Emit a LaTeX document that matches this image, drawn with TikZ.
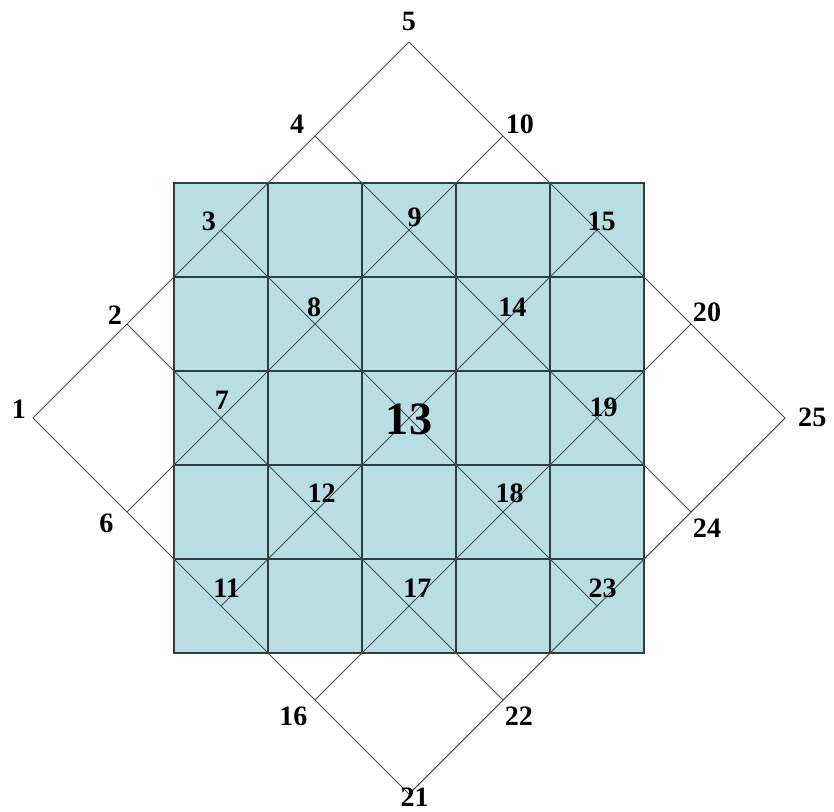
\documentclass[tikz,border=0pt]{standalone}
\usepackage{fontspec}
\setmainfont{Liberation Serif}
\usetikzlibrary{positioning}
\definecolor{cellblue}{RGB}{184,222,227}
\definecolor{gridline}{RGB}{45,62,64}
\definecolor{diagline}{RGB}{70,76,76}

\begin{document}
\begin{tikzpicture}[x=2cm,y=2cm,
    num/.style={font=\bfseries\fontsize{17}{19}\selectfont, inner sep=0pt},
    bignum/.style={font=\bfseries\fontsize{28}{30}\selectfont, inner sep=0pt},
    diag/.style={diagline, line width=0.6pt},
    gridln/.style={gridline, line width=1.2pt}]
    \useasboundingbox (-4.351,-4.191) rectangle (4.521,4.447);
    % the 5x5 square
    \fill[cellblue] (-2.5,-2.5) rectangle (2.5,2.5);
    \draw[gridln, step=2cm, shift={(-2.5,-2.5)}] (0,0) grid (5,5);
    \draw[gridln] (-2.5,-2.5) rectangle (2.5,2.5);
    % diamond lattice, point n = 5a+b+1
    \foreach \a in {0,...,4}
      \foreach \b in {0,...,4} {
        \pgfmathtruncatemacro{\n}{5*\a+\b+1}
        \coordinate (p\n) at ({\a+\b-4},{\b-\a});
      }
    \foreach \a in {0,...,4} {
      \pgfmathtruncatemacro{\s}{5*\a+1}
      \pgfmathtruncatemacro{\e}{5*\a+5}
      \draw[diag] (p\s) -- (p\e);
    }
    \foreach \b in {1,...,5} {
      \pgfmathtruncatemacro{\e}{\b+20}
      \draw[diag] (p\b) -- (p\e);
    }
    % numbers
    \node[num] (n1) at (-4.15,0.09) {1};
    \node[num] (n2) at (-3.13,1.09) {2};
    \node[num] (n3) at (-2.13,2.09) {3};
    \node[num] (n4) at (-1.19,3.12) {4};
    \node[num] (n5) at (0,4.22) {5};
    \node[num] (n6) at (-3.22,-1.12) {6};
    \node[num] (n7) at (-1.99,0.19) {7};
    \node[num] (n8) at (-1.01,1.18) {8};
    \node[num] (n9) at (0.06,2.14) {9};
    \node[num] (n10) at (1.18,3.12) {10};
    \node[num] (n11) at (-1.94,-1.81) {11};
    \node[num] (n12) at (-0.93,-0.80) {12};
    \node[bignum] (n13) at (0,-0.02) {13};
    \node[num] (n14) at (1.10,1.18) {14};
    \node[num] (n15) at (2.05,2.09) {15};
    \node[num] (n16) at (-1.23,-3.17) {16};
    \node[num] (n17) at (0.09,-1.81) {17};
    \node[num] (n18) at (1.07,-0.80) {18};
    \node[num] (n19) at (2.07,0.11) {19};
    \node[num] (n20) at (3.17,1.12) {20};
    \node[num] (n21) at (0.06,-4.03) {21};
    \node[num] (n22) at (1.17,-3.17) {22};
    \node[num] (n23) at (2.06,-1.81) {23};
    \node[num] (n24) at (3.17,-1.17) {24};
    \node[num] (n25) at (4.29,0.01) {25};
\end{tikzpicture}
\end{document}
